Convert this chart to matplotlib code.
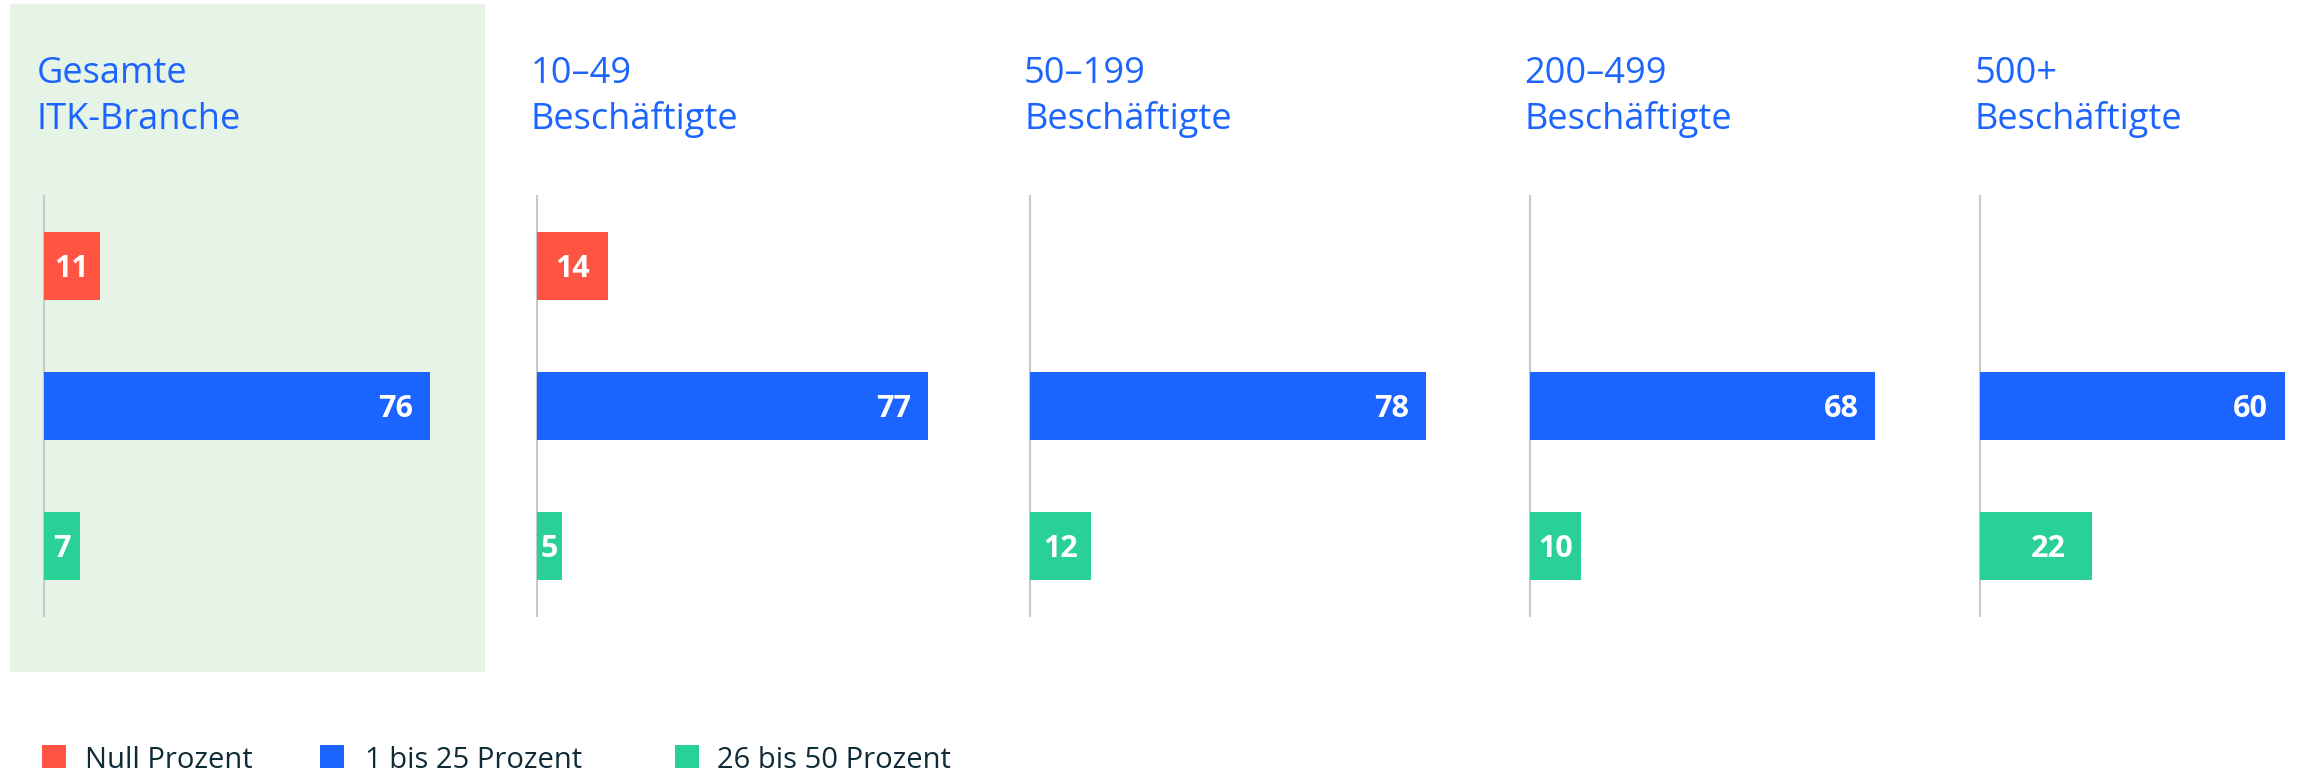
import matplotlib
matplotlib.use("Agg")
import matplotlib.pyplot as plt
from matplotlib.patches import Rectangle

# ---------------- data ----------------
panel_titles = ["Gesamte\nITK-Branche", "10–49\nBeschäftigte", "50–199\nBeschäftigte",
                "200–499\nBeschäftigte", "500+\nBeschäftigte"]
categories = ["Null Prozent", "1 bis 25 Prozent", "26 bis 50 Prozent"]
null_prozent = [11, 14, None, None, None]
bis_25_prozent = [76, 77, 78, 68, 60]
bis_50_prozent = [7, 5, 12, 10, 22]

series = [null_prozent, bis_25_prozent, bis_50_prozent]
colors = ["#FF5343", "#1C64FF", "#2AD196"]
title_color = "#1C64FF"
legend_text_color = "#0F2B38"

# ---------------- layout (pixels) ----------------
W, H = 2300, 772
fig = plt.figure(figsize=(W / 100, H / 100), dpi=100)
FONT = "Open Sans"

def fx(px):
    return px / W

def fy(py):
    return 1 - py / H

px_per_unit = 5.08
axis_x = [44, 537, 1030, 1530, 1980]
title_x = [37, 531, 1024, 1524, 1975]
ax_top, ax_bottom = 196, 616

# highlighted background of first panel
fig.add_artist(Rectangle((fx(10), fy(672)), (485 - 10) / W, (672 - 4) / H,
                         transform=fig.transFigure, facecolor="#E6F4E7",
                         edgecolor="none", zorder=-5))

for p in range(len(panel_titles)):
    x0 = axis_x[p]
    width_px = min(80 * px_per_unit, W - x0)
    ax = fig.add_axes([fx(x0), fy(ax_bottom), width_px / W, (ax_bottom - ax_top) / H])
    ax.patch.set_visible(False)
    ax.set_xlim(0, width_px / px_per_unit)
    ax.set_ylim(2.5, -0.5)
    for s in ["top", "right", "bottom"]:
        ax.spines[s].set_visible(False)
    ax.spines["left"].set_color("#C9C9C9")
    ax.spines["left"].set_linewidth(1.5)
    ax.spines["left"].set_zorder(1)
    ax.set_xticks([])
    ax.set_yticks([])

    for i, ser in enumerate(series):
        v = ser[p]
        if v is None:
            continue
        ax.barh(i, v, height=0.49, left=0, color=colors[i], zorder=3)
        if v >= 30:
            lx, ha = v - 17 / px_per_unit, "right"
        else:
            lx, ha = max(v / 2, v - 8.6), "center"
        ax.text(lx, i + 11 / 140, str(v), ha=ha, va="baseline", color="white",
                fontsize=22, fontweight="bold", family=FONT, zorder=4)

    line1, line2 = panel_titles[p].split("\n")
    fig.text(fx(title_x[p]), fy(83), line1, ha="left", va="baseline",
             color=title_color, fontsize=26, family=FONT)
    fig.text(fx(title_x[p]), fy(129), line2, ha="left", va="baseline",
             color=title_color, fontsize=26, family=FONT)

# ---------------- legend ----------------
legend_square_x = [42, 320, 675]
legend_text_x = [85, 365, 717]
for k, cat in enumerate(categories):
    fig.add_artist(Rectangle((fx(legend_square_x[k]), fy(768)), 24 / W, 23 / H,
                             transform=fig.transFigure, facecolor=colors[k],
                             edgecolor="none"))
    fig.text(fx(legend_text_x[k]), fy(768), cat, ha="left", va="baseline",
             color=legend_text_color, fontsize=21, family=FONT)

fig.savefig("out.png", dpi=100, facecolor="white")
